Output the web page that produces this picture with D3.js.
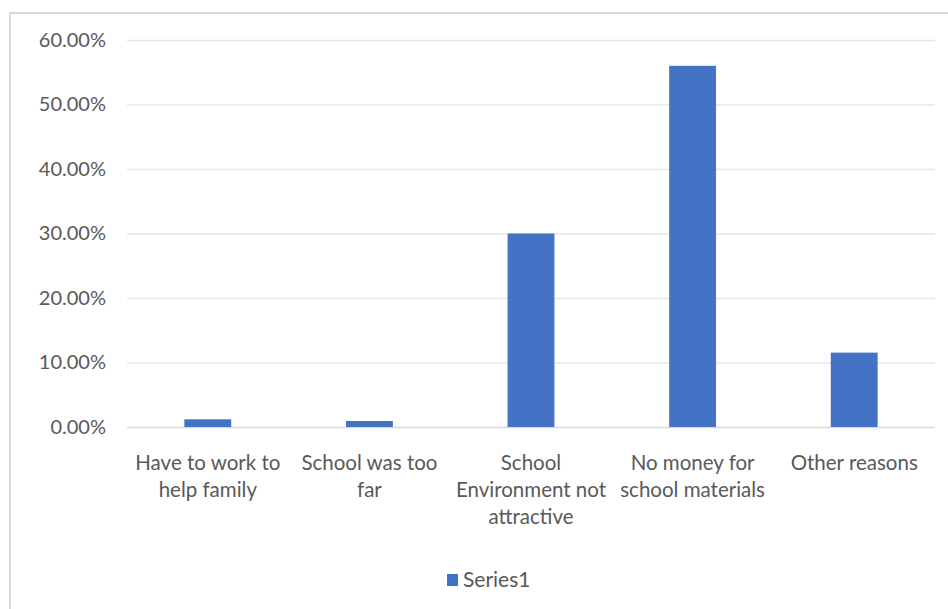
<!DOCTYPE html>
<html>
<head>
<meta charset="utf-8">
<script src="https://cdn.jsdelivr.net/npm/d3@7"></script>
<style>
  html, body { margin: 0; padding: 0; background: #fff; }
  svg { display: block; }
</style>
</head>
<body>
<svg id="chart"></svg>
<script>
// data
const categories = [
  "Have to work to help family",
  "School was too far",
  "School Environment not attractive",
  "No money for school materials",
  "Other reasons"
];
// how the category labels wrap
const labelLines = [
  ["Have to work to", "help family"],
  ["School was too", "far"],
  ["School", "Environment not", "attractive"],
  ["No money for", "school materials"],
  ["Other reasons"]
];
const series1 = [0.0119, 0.0093, 0.300, 0.560, 0.1153];
const yTicks = [0, 0.1, 0.2, 0.3, 0.4, 0.5, 0.6];
const seriesName = "Series1";

const width = 948;
const height = 609;
const margin = { top: 40, right: 13, bottom: 182, left: 127 };
const barColor = "#4472c4";
const textColor = "#595959";
const font = "Lato, 'Open Sans', sans-serif";

const svg = d3.select("#chart")
  .attr("width", width)
  .attr("height", height);

// chart area border (runs off the right and bottom edge)
svg.append("rect")
  .attr("x", 10)
  .attr("y", 13)
  .attr("width", width)
  .attr("height", height)
  .attr("fill", "none")
  .attr("stroke", "#d9d9d9")
  .attr("stroke-width", 2);

const p = 0.71;
const xScale = d3.scaleBand()
  .domain(categories)
  .range([margin.left, width - margin.right])
  .paddingInner(p)
  .paddingOuter(p / 2);

const yScale = d3.scaleLinear()
  .domain([0, 0.6])
  .range([height - margin.bottom, margin.top]);

// gridlines
svg.append("g")
  .attr("class", "grid")
  .attr("transform", `translate(${margin.left},0)`)
  .call(d3.axisLeft(yScale).tickValues(yTicks)
    .tickSize(-(width - margin.right - margin.left)).tickFormat(""))
  .call((g) => g.select(".domain").remove())
  .call((g) => g.selectAll("line")
    .attr("stroke", (d) => d === 0 ? "#d9d9d9" : "#e6e6e6")
    .attr("stroke-width", (d) => d === 0 ? 1.5 : 1.3));

// bars
svg.selectAll(".bar")
  .data(series1)
  .enter()
  .append("rect")
  .attr("class", "bar")
  .attr("x", (d, i) => xScale(categories[i]))
  .attr("y", (d) => yScale(d))
  .attr("width", xScale.bandwidth())
  .attr("height", (d) => yScale(0) - yScale(d))
  .attr("fill", barColor);

// y labels
svg.append("g")
  .attr("transform", `translate(${margin.left},0)`)
  .call(d3.axisLeft(yScale).tickValues(yTicks).tickSize(0).tickPadding(21)
    .tickFormat((d) => (d * 100).toFixed(2) + "%"))
  .call((g) => g.select(".domain").remove())
  .selectAll("text")
  .attr("fill", textColor)
  .style("font-family", font)
  .style("font-size", "20px");

// x labels
const xAxis = svg.append("g")
  .attr("transform", `translate(0,${yScale(0)})`)
  .call(d3.axisBottom(xScale).tickSize(0).tickFormat(""))
  .call((g) => g.select(".domain").remove());

xAxis.selectAll(".tick")
  .append("text")
  .attr("fill", textColor)
  .attr("text-anchor", "middle")
  .style("font-family", font)
  .style("font-size", "20.5px")
  .selectAll("tspan")
  .data((d) => labelLines[categories.indexOf(d)])
  .enter()
  .append("tspan")
  .attr("x", 0)
  .attr("y", (d, i) => 43 + i * 27)
  .text((d) => d);

// legend
const legend = svg.append("g")
  .attr("transform", `translate(447,574)`);
legend.append("rect")
  .attr("width", 11)
  .attr("height", 12)
  .attr("fill", barColor);
legend.append("text")
  .attr("x", 16)
  .attr("y", 13)
  .attr("fill", textColor)
  .style("font-family", font)
  .style("font-size", "21px")
  .text(seriesName);
</script>
</body>
</html>
